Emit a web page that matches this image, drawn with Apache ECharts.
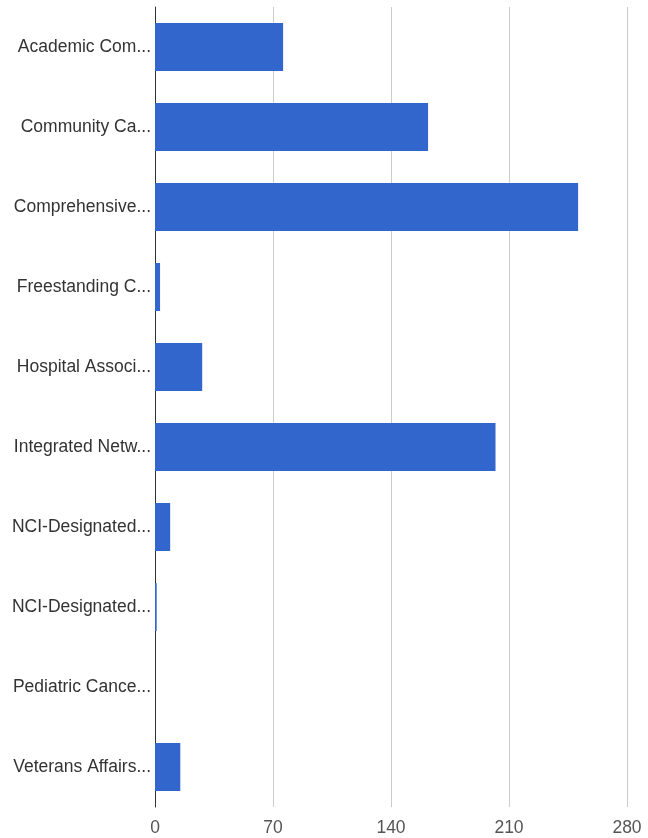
<!DOCTYPE html>
<html>
<head>
<meta charset="utf-8">
<script src="https://cdn.jsdelivr.net/npm/echarts@6/dist/echarts.min.js"></script>
<style>
  html, body { margin: 0; padding: 0; background: #fff; }
  #chart { width: 648px; height: 838px; }
</style>
</head>
<body>
<div id="chart"></div>
<script>
// Program types (labels as shown, truncated)
const categories = [
  'Academic Com...',
  'Community Ca...',
  'Comprehensive...',
  'Freestanding C...',
  'Hospital Associ...',
  'Integrated Netw...',
  'NCI-Designated...',
  'NCI-Designated...',
  'Pediatric Cance...',
  'Veterans Affairs...'
];
const counts = [76, 162, 251, 3, 28, 202, 9, 1, 0, 15];
const xTicks = [0, 70, 140, 210, 280];

const chart = echarts.init(document.getElementById('chart'));
chart.setOption({
  animation: false,
  grid: { left: 155, right: 21, top: 7, bottom: 31, containLabel: false },
  xAxis: {
    type: 'value',
    min: xTicks[0],
    max: xTicks[xTicks.length - 1],
    interval: xTicks[1] - xTicks[0],
    axisLine: { show: false },
    axisTick: { show: false },
    splitLine: { show: true, lineStyle: { color: '#cccccc', width: 1 } },
    axisLabel: {
      color: '#555555',
      fontFamily: 'Liberation Sans, Arial, sans-serif',
      fontSize: 17.5,
      margin: 12
    }
  },
  yAxis: {
    type: 'category',
    data: categories,
    inverse: true,
    axisLine: { show: true, lineStyle: { color: '#333333', width: 1 } },
    axisTick: { show: false },
    axisLabel: {
      color: '#333333',
      fontFamily: 'Liberation Sans, Arial, sans-serif',
      fontSize: 17.5,
      margin: 4
    }
  },
  series: [{
    type: 'bar',
    data: counts,
    barWidth: '60%',
    itemStyle: { color: '#3366cc' },
    z: 1
  }]
});
</script>
</body>
</html>
